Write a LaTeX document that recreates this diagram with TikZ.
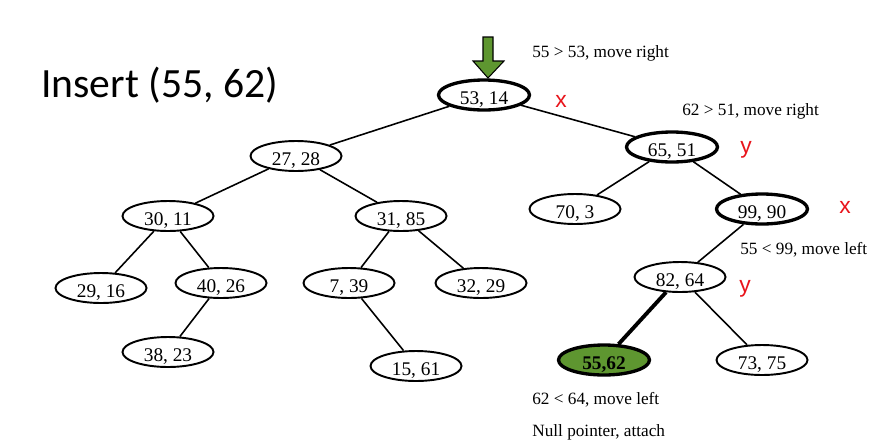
\documentclass[tikz,border=0pt]{standalone}
\usepackage{fontspec}
\setmainfont{Liberation Serif}
\newfontfamily\titlefont{Carlito}
\newfontfamily\markfont{Liberation Sans}
\usetikzlibrary{arrows.meta, shapes.geometric}
\definecolor{TreeGreen}{HTML}{5E9630}
\definecolor{MarkRed}{HTML}{E8141B}

\begin{document}
\begin{tikzpicture}[x=0.02cm, y=-0.02cm,
  kd_node/.style={ellipse, draw, line width=1.1pt, minimum width=1.82cm, minimum height=0.6cm, inner sep=0pt,
    text height=10.7pt, text depth=0pt, font=\fontsize{11}{13}\selectfont},
  path_node/.style={kd_node, line width=1.9pt},
  new_node/.style={path_node, fill=TreeGreen, font=\fontsize{11}{13}\selectfont\bfseries},
  note/.style={anchor=west, inner sep=0pt, font=\fontsize{9.8}{11}\selectfont},
  split_mark/.style={text=MarkRed, inner sep=0pt, font=\markfont\fontsize{13}{15}\selectfont},
  tree_edge/.style={line width=0.9pt},
]
  \useasboundingbox (0,0) rectangle (889,447);
  \node[anchor=base west, inner sep=0pt, font=\titlefont\fontsize{23.7}{28}\selectfont] (title) at (41,97) {Insert (55, 62)};

  % tree
  \node[path_node] (n5314) at (484,95) {53, 14};
  \node[kd_node] (n2728) at (296,156) {27, 28};
  \node[path_node] (n6551) at (672,147) {65, 51};
  \node[kd_node] (n3011) at (168,216) {30, 11};
  \node[kd_node] (n3185) at (401,216) {31, 85};
  \node[kd_node] (n703) at (575,209) {70, 3};
  \node[path_node] (n9990) at (762,209) {99, 90};
  \node[kd_node] (n2916) at (101,288) {29, 16};
  \node[kd_node] (n4026) at (221,283) {40, 26};
  \node[kd_node] (n739) at (349,283) {7, 39};
  \node[kd_node] (n3229) at (481,283) {32, 29};
  \node[kd_node] (n3823) at (168,352) {38, 23};
  \node[kd_node] (n1561) at (416,366) {15, 61};
  \node[kd_node] (n8264) at (680,277) {82, 64};
  \node[new_node] (n5562) at (604,360) {55,62};
  \node[kd_node] (n7375) at (762,360) {73, 75};

  \foreach \a/\b in {n5314/n2728, n5314/n6551, n2728/n3011, n2728/n3185, n3011/n2916,
                     n3011/n4026, n4026/n3823, n3185/n739, n3185/n3229, n739/n1561,
                     n6551/n703, n6551/n9990, n9990/n8264, n8264/n7375}
    \draw[tree_edge] (\a) -- (\b);
  \draw[line width=2.2pt] (n8264) -- (n5562);

  % green pointer
  \draw[fill=TreeGreen, line width=0.6pt] (483,37) -- (493,37) -- (493,61) -- (504,61)
    -- (488,78) -- (473,61) -- (483,61) -- cycle;

  % notes
  \node[note] (step1) at (532,53) {55 > 53, move right};
  \node[note] (step2) at (682,111) {62 > 51, move right};
  \node[note] (step3) at (740,250) {55 < 99, move left};
  \node[note] (step4) at (532,400) {62 < 64, move left};
  \node[note] (step5) at (532,432) {Null pointer, attach};

  % split axes
  \node[split_mark] (ax1) at (561,101) {x};
  \node[split_mark] (ax2) at (746,150) {y};
  \node[split_mark] (ax3) at (845,207) {x};
  \node[split_mark] (ax4) at (745,289) {y};
\end{tikzpicture}
\end{document}
